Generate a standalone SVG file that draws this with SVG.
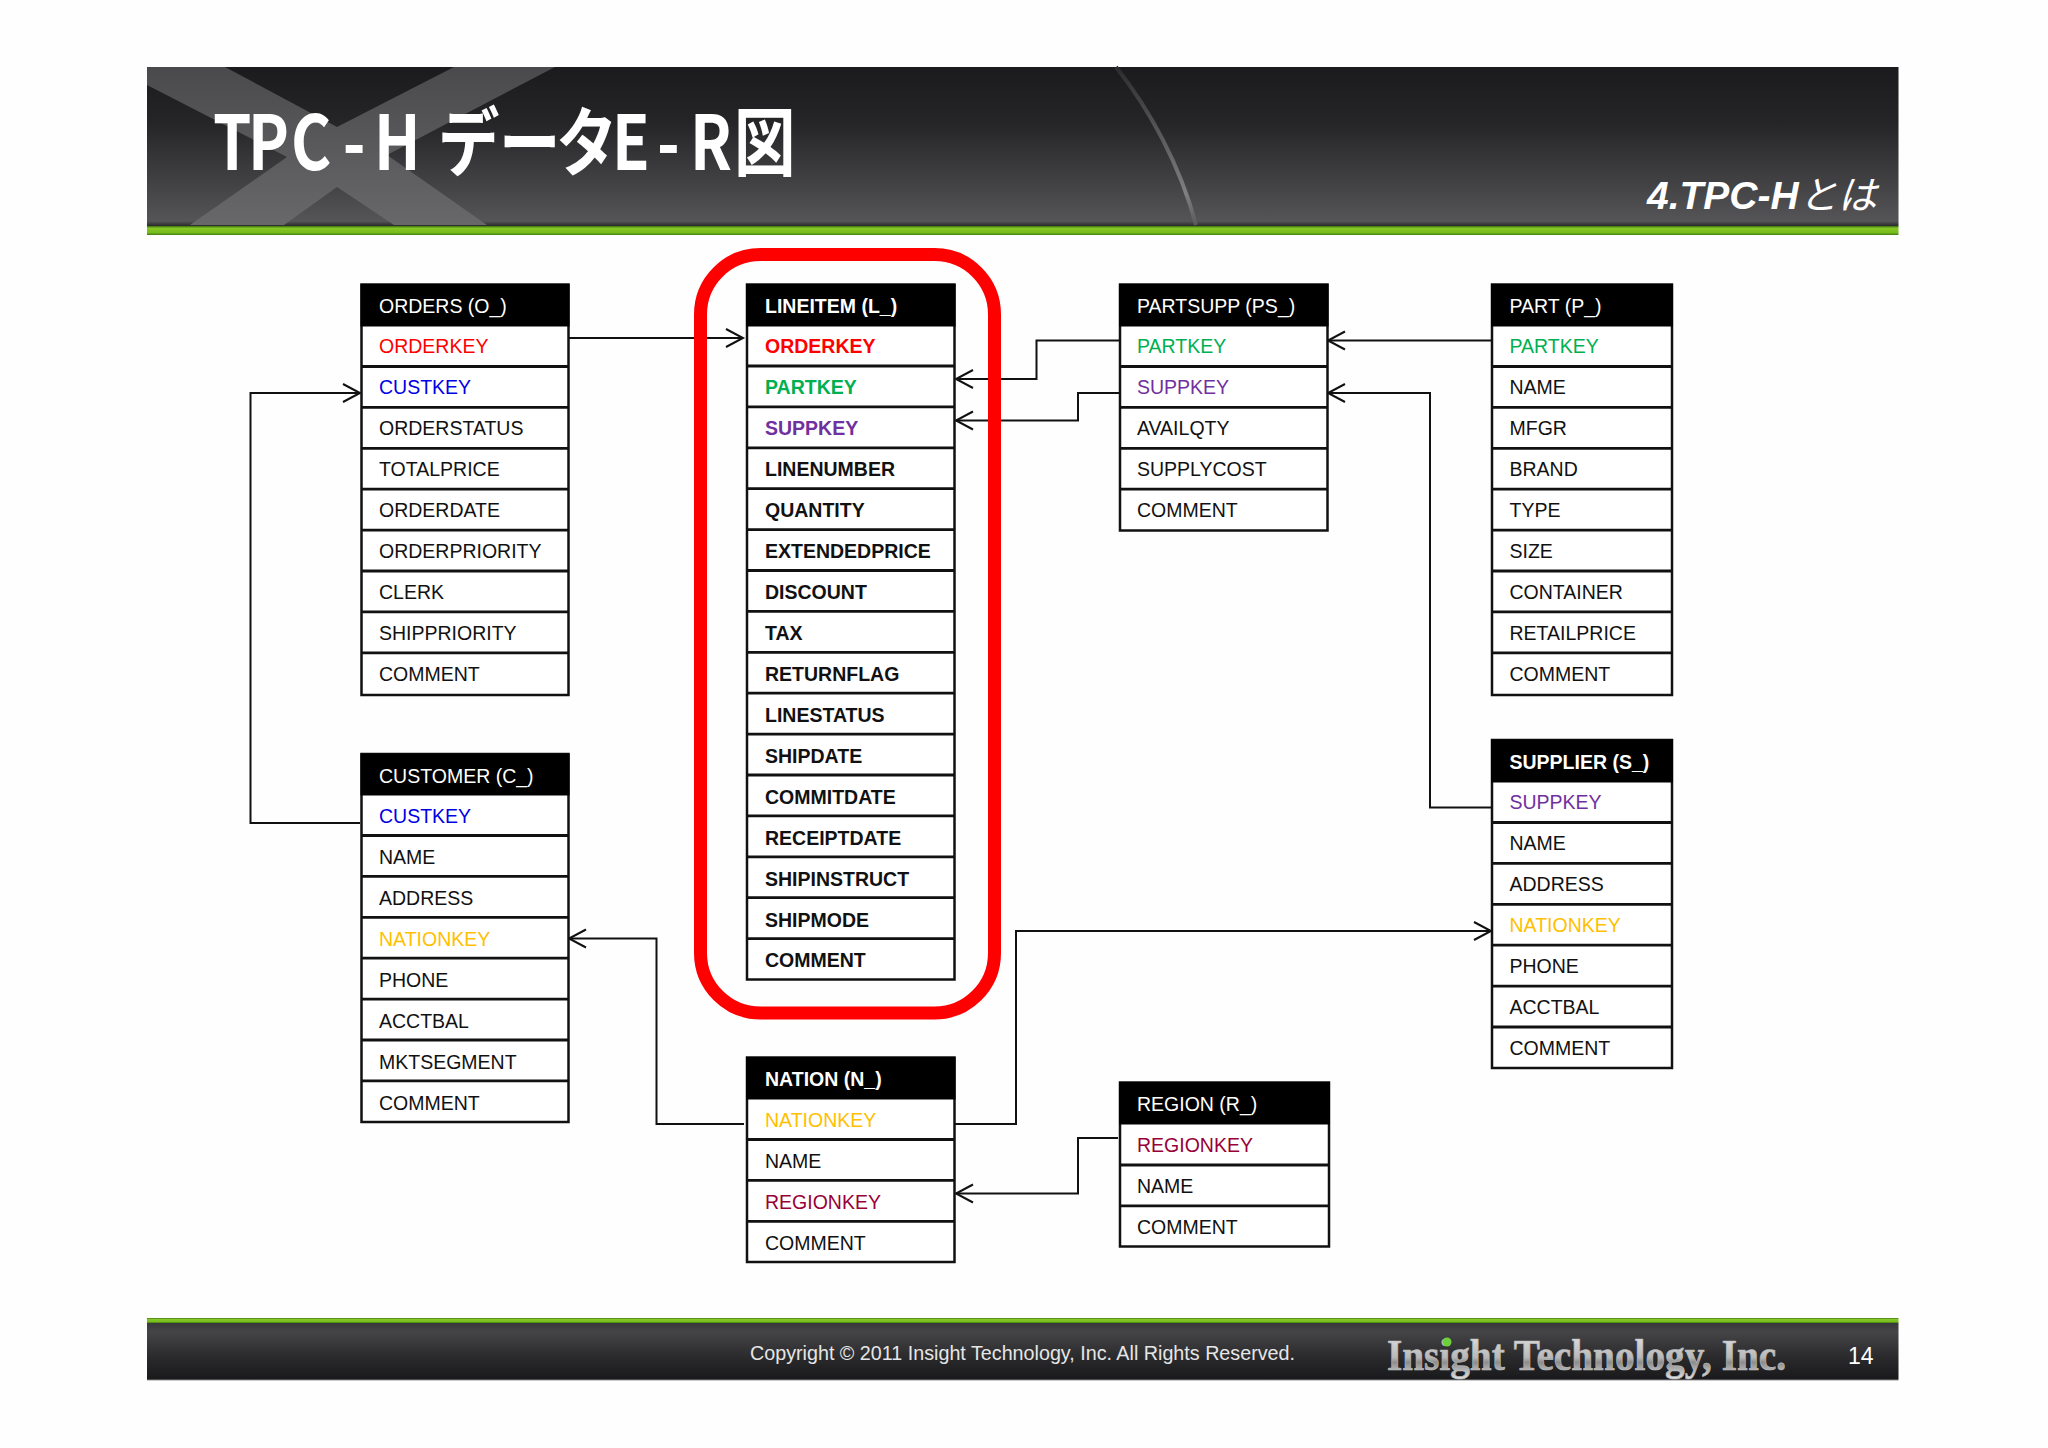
<svg xmlns="http://www.w3.org/2000/svg" width="2048" height="1448" viewBox="0 0 2048 1448">
<style>
text{font-family:"Liberation Sans","Noto Sans CJK JP",sans-serif}
.t{font-size:19.5px;fill:#111}
.h{font-size:19.5px;fill:#fff}
.b{font-weight:700}
.hd{fill:#000}
.fr{fill:#fff;stroke:#111;stroke-width:2.5}
.ln{stroke:#111;stroke-width:2.8}
.c{fill:none;stroke:#111;stroke-width:2}
.ok{fill:#ff0000}.ck{fill:#0000e6}.pk{fill:#00b050}.sk{fill:#7030a0}.nk{fill:#ffc000}.rk{fill:#990038}
</style>
<defs>
<linearGradient id="hg" x1="0" y1="0" x2="0" y2="1"><stop offset="0" stop-color="#1b1b1d"/><stop offset=".35" stop-color="#252527"/><stop offset=".9" stop-color="#4f4f51"/><stop offset=".97" stop-color="#555557"/><stop offset="1" stop-color="#2a2a2a"/></linearGradient>
<linearGradient id="xg" x1="0" y1="0" x2="0" y2="1"><stop offset="0" stop-color="#4a4a4c"/><stop offset="1" stop-color="#68686a"/></linearGradient>
<linearGradient id="gg" x1="0" y1="0" x2="0" y2="1"><stop offset="0" stop-color="#3d6d10"/><stop offset=".25" stop-color="#86c926"/><stop offset=".75" stop-color="#76bb1c"/><stop offset="1" stop-color="#3f7a10"/></linearGradient>
<linearGradient id="fg" x1="0" y1="0" x2="0" y2="1"><stop offset="0" stop-color="#38383a"/><stop offset=".15" stop-color="#454548"/><stop offset=".6" stop-color="#2a2a2c"/><stop offset=".97" stop-color="#1a1a1c"/><stop offset="1" stop-color="#999"/></linearGradient>
<linearGradient id="cg" x1="0" y1="0" x2="0" y2="1"><stop offset="0" stop-color="#2c2c2e"/><stop offset=".8" stop-color="#808082"/><stop offset="1" stop-color="#5a5a5c"/></linearGradient>
<linearGradient id="lg" x1="0" y1="0" x2="0" y2="1"><stop offset="0" stop-color="#e8e8e8"/><stop offset=".55" stop-color="#b8b8b8"/><stop offset=".65" stop-color="#8c8c8c"/><stop offset="1" stop-color="#e4e4e4"/></linearGradient>
<marker id="a" markerUnits="userSpaceOnUse" markerWidth="22" markerHeight="24" refX="19" refY="12" orient="auto"><path d="M2,3 L19,12 L2,21" fill="none" stroke="#111" stroke-width="2"/></marker>
</defs>
<rect width="2048" height="1448" fill="#fefefe"/>

<g id="header">
<rect x="147" y="67" width="1751.500" height="159" fill="url(#hg)"/>
<path d="M147,67 L225,67 L337,127 L454,67 L555,67 L387,155 L487,225 L394,225 L337,187 L284,225 L190,225 L287,157 L147,85 Z" fill="url(#xg)"/>
<path d="M1116,67 C1150,110 1180,165 1196,225" fill="none" stroke="url(#cg)" stroke-width="4"/>
<rect x="147" y="226" width="1751.500" height="9" fill="url(#gg)"/>
<text transform="translate(0,170) scale(.82,1)" y="0" x="259.8 302.4 354.9 418 456.1 512.2 534.1 608.5 678 746.3 801.2 841.5 895.1" font-size="75" font-weight="700" fill="#fff" style="font-family:'Noto Sans CJK JP',sans-serif">TPC-H データE-R図</text>
<text x="1647" y="209" font-size="39" font-weight="700" font-style="italic" fill="#fff">4.TPC-H<tspan font-weight="400">とは</tspan></text>
</g>

<g id="footer">
<rect x="147" y="1318" width="1751.500" height="5" fill="url(#gg)"/>
<rect x="147" y="1323" width="1751.500" height="57.500" fill="url(#fg)"/>
<text x="750" y="1360" font-size="20.500" fill="#e6e6e6" textLength="545" lengthAdjust="spacingAndGlyphs">Copyright © 2011 Insight Technology, Inc. All Rights Reserved.</text>
<text x="1387" y="1369.500" font-size="44" font-weight="700" fill="url(#lg)" stroke="#bbb" stroke-width=".7" style="font-family:'Liberation Serif',serif" textLength="399" lengthAdjust="spacingAndGlyphs">Insight Technology, Inc.</text>
<circle cx="1447" cy="1342" r="4.500" fill="#6fd13a"/>
<text x="1848" y="1364" font-size="23" fill="#fff">14</text>
</g>

<g id="connectors" transform="translate(0,.5)">
<path class="c" marker-end="url(#a)" d="M569,337.500 H743"/>
<path class="c" marker-end="url(#a)" d="M360,822.500 H250.500 V392.500 H360"/>
<path class="c" marker-end="url(#a)" d="M1491,340 H1328"/>
<path class="c" marker-end="url(#a)" d="M1119,340 H1036.500 V378.500 H956"/>
<path class="c" marker-end="url(#a)" d="M1119,392.500 H1078 V420 H956"/>
<path class="c" marker-end="url(#a)" d="M1491,807 H1430 V392.500 H1328"/>
<path class="c" marker-end="url(#a)" d="M744,1123.500 H656.500 V938 H569"/>
<path class="c" marker-end="url(#a)" d="M955,1123.500 H1016 V930.500 H1491"/>
<path class="c" marker-end="url(#a)" d="M1118,1137.500 H1078 V1193 H956"/>
</g>

<rect id="highlight" x="700.500" y="254.500" width="294" height="758.500" rx="60" ry="60" fill="none" stroke="#ff0000" stroke-width="13"/>

<g id="orders">
<rect class="fr" x="361.500" y="284.500" width="207" height="410.500"/>
<rect class="hd" x="360.500" y="284" width="209" height="42.500"/>
<path class="ln" d="M361,366.500H569M361,407.400H569M361,448.300H569M361,489.200H569M361,530.100H569M361,571H569M361,611.900H569M361,652.800H569"/>
<text class="h" x="379" y="312.500">ORDERS (O_)</text>
<text class="t ok" x="379" y="353">ORDERKEY</text>
<text class="t ck" x="379" y="394">CUSTKEY</text>
<text class="t" x="379" y="435">ORDERSTATUS</text>
<text class="t" x="379" y="476">TOTALPRICE</text>
<text class="t" x="379" y="517">ORDERDATE</text>
<text class="t" x="379" y="558">ORDERPRIORITY</text>
<text class="t" x="379" y="599">CLERK</text>
<text class="t" x="379" y="640">SHIPPRIORITY</text>
<text class="t" x="379" y="681">COMMENT</text>
</g>

<g id="lineitem">
<rect class="fr" x="747" y="284.500" width="207.500" height="695"/>
<rect class="hd" x="746" y="284" width="209.500" height="42.500"/>
<path class="ln" d="M747,366H955M747,406.900H955M747,447.800H955M747,488.700H955M747,529.600H955M747,570.500H955M747,611.400H955M747,652.300H955M747,693.200H955M747,734.100H955M747,775H955M747,815.900H955M747,856.800H955M747,897.700H955M747,938.600H955"/>
<text class="h b" x="765" y="312.500">LINEITEM (L_)</text>
<text class="t b ok" x="765" y="353">ORDERKEY</text>
<text class="t b pk" x="765" y="394">PARTKEY</text>
<text class="t b sk" x="765" y="435">SUPPKEY</text>
<text class="t b" x="765" y="476">LINENUMBER</text>
<text class="t b" x="765" y="517">QUANTITY</text>
<text class="t b" x="765" y="558">EXTENDEDPRICE</text>
<text class="t b" x="765" y="599">DISCOUNT</text>
<text class="t b" x="765" y="640">TAX</text>
<text class="t b" x="765" y="681">RETURNFLAG</text>
<text class="t b" x="765" y="722">LINESTATUS</text>
<text class="t b" x="765" y="763">SHIPDATE</text>
<text class="t b" x="765" y="803.500">COMMITDATE</text>
<text class="t b" x="765" y="844.500">RECEIPTDATE</text>
<text class="t b" x="765" y="885.500">SHIPINSTRUCT</text>
<text class="t b" x="765" y="926.500">SHIPMODE</text>
<text class="t b" x="765" y="967">COMMENT</text>
</g>

<g id="partsupp">
<rect class="fr" x="1120" y="284.500" width="207.500" height="246"/>
<rect class="hd" x="1119" y="284" width="209.500" height="42.500"/>
<path class="ln" d="M1120,366.500H1328M1120,407.400H1328M1120,448.300H1328M1120,489.200H1328"/>
<text class="h" x="1137" y="312.500">PARTSUPP (PS_)</text>
<text class="t pk" x="1137" y="353">PARTKEY</text>
<text class="t sk" x="1137" y="394">SUPPKEY</text>
<text class="t" x="1137" y="435">AVAILQTY</text>
<text class="t" x="1137" y="476">SUPPLYCOST</text>
<text class="t" x="1137" y="517">COMMENT</text>
</g>

<g id="part">
<rect class="fr" x="1492" y="284.500" width="180" height="410.500"/>
<rect class="hd" x="1491" y="284" width="182" height="42.500"/>
<path class="ln" d="M1492,366.500H1672M1492,407.400H1672M1492,448.300H1672M1492,489.200H1672M1492,530.100H1672M1492,571H1672M1492,611.900H1672M1492,652.800H1672"/>
<text class="h" x="1509.500" y="312.500">PART (P_)</text>
<text class="t pk" x="1509.500" y="353">PARTKEY</text>
<text class="t" x="1509.500" y="394">NAME</text>
<text class="t" x="1509.500" y="435">MFGR</text>
<text class="t" x="1509.500" y="476">BRAND</text>
<text class="t" x="1509.500" y="517">TYPE</text>
<text class="t" x="1509.500" y="558">SIZE</text>
<text class="t" x="1509.500" y="599">CONTAINER</text>
<text class="t" x="1509.500" y="640">RETAILPRICE</text>
<text class="t" x="1509.500" y="681">COMMENT</text>
</g>

<g id="customer">
<rect class="fr" x="361.500" y="754" width="207" height="368"/>
<rect class="hd" x="360.500" y="753.500" width="209" height="42"/>
<path class="ln" d="M361,835.500H569M361,876.400H569M361,917.300H569M361,958.200H569M361,999.100H569M361,1040H569M361,1080.900H569"/>
<text class="h" x="379" y="783">CUSTOMER (C_)</text>
<text class="t ck" x="379" y="823">CUSTKEY</text>
<text class="t" x="379" y="864">NAME</text>
<text class="t" x="379" y="905">ADDRESS</text>
<text class="t nk" x="379" y="946">NATIONKEY</text>
<text class="t" x="379" y="987">PHONE</text>
<text class="t" x="379" y="1028">ACCTBAL</text>
<text class="t" x="379" y="1069">MKTSEGMENT</text>
<text class="t" x="379" y="1110">COMMENT</text>
</g>

<g id="supplier">
<rect class="fr" x="1492" y="740" width="180" height="328"/>
<rect class="hd" x="1491" y="739.500" width="182" height="43"/>
<path class="ln" d="M1492,822.500H1672M1492,863.400H1672M1492,904.300H1672M1492,945.200H1672M1492,986.100H1672M1492,1027H1672"/>
<text class="h b" x="1509.500" y="769">SUPPLIER (S_)</text>
<text class="t sk" x="1509.500" y="809">SUPPKEY</text>
<text class="t" x="1509.500" y="850">NAME</text>
<text class="t" x="1509.500" y="891">ADDRESS</text>
<text class="t nk" x="1509.500" y="932">NATIONKEY</text>
<text class="t" x="1509.500" y="973">PHONE</text>
<text class="t" x="1509.500" y="1014">ACCTBAL</text>
<text class="t" x="1509.500" y="1055">COMMENT</text>
</g>

<g id="nation">
<rect class="fr" x="747" y="1057.500" width="207.500" height="204.500"/>
<rect class="hd" x="746" y="1057" width="209.500" height="42.500"/>
<path class="ln" d="M747,1139.500H955M747,1180.400H955M747,1221.300H955"/>
<text class="h b" x="765" y="1086">NATION (N_)</text>
<text class="t nk" x="765" y="1127">NATIONKEY</text>
<text class="t" x="765" y="1168">NAME</text>
<text class="t rk" x="765" y="1209">REGIONKEY</text>
<text class="t" x="765" y="1250">COMMENT</text>
</g>

<g id="region">
<rect class="fr" x="1120" y="1082.500" width="209" height="164"/>
<rect class="hd" x="1119" y="1082" width="211" height="42.500"/>
<path class="ln" d="M1120,1165H1329M1120,1205.900H1329"/>
<text class="h" x="1137" y="1111">REGION (R_)</text>
<text class="t rk" x="1137" y="1152">REGIONKEY</text>
<text class="t" x="1137" y="1193">NAME</text>
<text class="t" x="1137" y="1234">COMMENT</text>
</g>
</svg>
